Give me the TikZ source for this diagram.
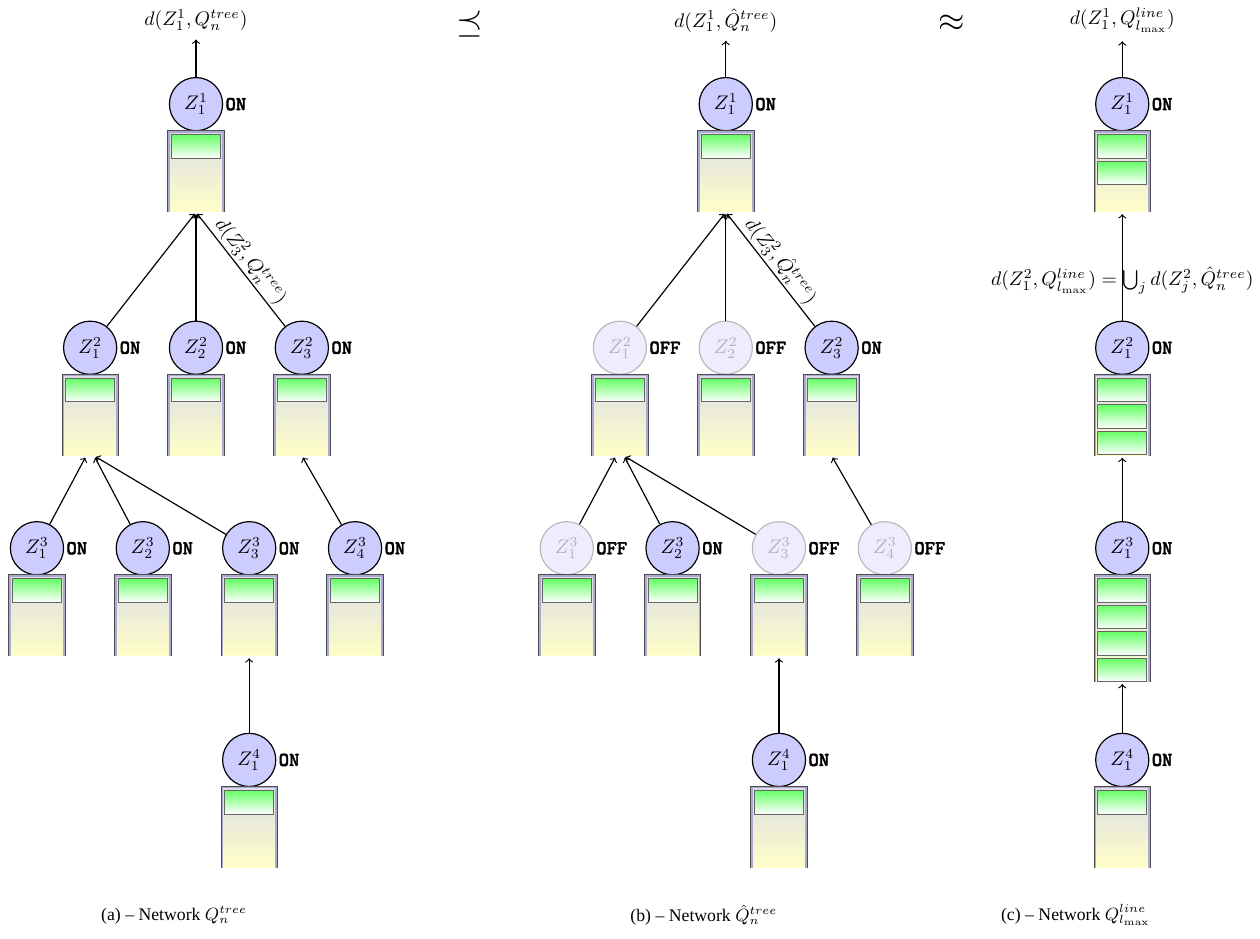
\documentclass[tikz,border=0pt]{standalone}
\usepackage{amsmath,amssymb}
\usepackage{fontspec}
\newfontfamily\capfont[Ligatures=TeX]{Liberation Serif}
\newfontfamily\onfont[FakeBold=2]{lmmonolt10-bold.otf}
\usepackage{tikz}

\definecolor{qtop}{RGB}{220,220,230}
\definecolor{qbot}{RGB}{255,255,200}
\definecolor{qrim}{RGB}{170,170,210}

\tikzset{
  zon/.style={circle, draw, semithick, fill=blue!20, minimum size=0.95cm, inner sep=0pt, label={[onoff]right:ON}},
  zoff/.style={circle, draw=gray!55, semithick, fill=blue!7, text=gray!60, minimum size=0.95cm, inner sep=0pt, label={[onoff]right:OFF}},
  onoff/.style={font=\onfont, inner sep=1pt},
  qbox/.style={rectangle, minimum width=0.96cm, inner sep=0pt, top color=qtop, bottom color=qbot},
  qrimline/.style={draw=qrim, line width=1.3pt},
  qedge/.style={draw=black!70, line width=0.4pt},
  qslot/.style={rectangle, draw=black!60, minimum width=0.875cm, minimum height=0.42cm, inner sep=0pt, top color=green!60, bottom color=white},
  arr/.style={->, semithick, shorten >=1pt},
}

% buffer under a station: #1 node, #2 packets, #3 height
\newcommand{\queue}[3]{%
  \node[qbox, minimum height=#3, anchor=north] (#1q) at (#1.south) {};
  \draw[qrimline] (#1q.south west) -- (#1q.north west) -- (#1q.north east) -- (#1q.south east);
  \draw[qedge] ([xshift=-0.5pt]#1q.south west) -- ([shift={(-0.5pt,0.5pt)}]#1q.north west)
    -- ([shift={(0.5pt,0.5pt)}]#1q.north east) -- ([xshift=0.5pt]#1q.south east);
  \foreach \k in {1,...,#2}
    \node[qslot, anchor=north, yshift={-0.054cm-(\k-1)*0.473cm}] (#1s\k) at (#1q.north) {};
}

\begin{document}
\begin{tikzpicture}
\useasboundingbox (0,0) rectangle (22.5,-16.75);

% (a) tree network
\node (a0) at (3.50,-0.36) {$d(Z_1^1,Q_n^{tree})$};
\node[zon] (a11) at (3.50,-1.86) {$Z_1^1$};
\foreach \i/\x in {1/1.61,2/3.50,3/5.39}
  \node[zon] (a2\i) at (\x,-6.21) {$Z_{\i}^2$};
\foreach \i/\x in {1/0.66,2/2.55,3/4.45,4/6.34}
  \node[zon] (a3\i) at (\x,-9.79) {$Z_{\i}^3$};
\node[zon] (a41) at (4.45,-13.57) {$Z_1^4$};
\foreach \n in {a11,a21,a22,a23,a31,a32,a33,a34,a41}
  {\queue{\n}{1}{1.43cm}}

\draw[arr] (a11) -- (a0);
\draw[arr] (a21) -- (a11q.south);
\draw[arr] (a22) -- (a11q.south);
\draw[arr] (a23) -- node[midway, above, sloped, inner sep=1pt] {$d(Z_3^2,Q_n^{tree})$} (a11q.south);
\draw[arr] (a31) -- ([xshift=-2pt]a21q.south);
\draw[arr] (a32) -- ([xshift=2pt]a21q.south);
\draw[arr] (a33) -- ([xshift=2pt]a21q.south);
\draw[arr] (a34) -- (a23q.south);
\draw[arr] (a41) -- (a33q.south);

% (b) tree network, some stations off
\node (b0) at (12.96,-0.36) {$d(Z_1^1,\hat{Q}_n^{tree})$};
\node[zon] (b11) at (12.96,-1.86) {$Z_1^1$};
\foreach \i/\x/\s in {1/11.07/zoff,2/12.96/zoff,3/14.85/zon}
  \node[\s] (b2\i) at (\x,-6.21) {$Z_{\i}^2$};
\foreach \i/\x/\s in {1/10.12/zoff,2/12.01/zon,3/13.91/zoff,4/15.80/zoff}
  \node[\s] (b3\i) at (\x,-9.79) {$Z_{\i}^3$};
\node[zon] (b41) at (13.91,-13.57) {$Z_1^4$};
\foreach \n in {b11,b21,b22,b23,b31,b32,b33,b34,b41}
  {\queue{\n}{1}{1.43cm}}

\draw[arr] (b11) -- (b0);
\draw[arr] (b21) -- (b11q.south);
\draw[arr] (b22) -- (b11q.south);
\draw[arr] (b23) -- node[midway, above, sloped, inner sep=1pt] {$d(Z_3^2,\hat{Q}_n^{tree})$} (b11q.south);
\draw[arr] (b31) -- ([xshift=-2pt]b21q.south);
\draw[arr] (b32) -- ([xshift=2pt]b21q.south);
\draw[arr] (b33) -- ([xshift=2pt]b21q.south);
\draw[arr] (b34) -- (b23q.south);
\draw[arr] (b41) -- (b33q.south);

% (c) line network
\node (c0) at (20.04,-0.36) {$d(Z_1^1,Q_{l_{\max}}^{line})$};
\node[zon] (c11) at (20.04,-1.86) {$Z_1^1$};
\node[zon] (c21) at (20.04,-6.21) {$Z_1^2$};
\node[zon] (c31) at (20.04,-9.79) {$Z_1^3$};
\node[zon] (c41) at (20.04,-13.57) {$Z_1^4$};
\queue{c11}{2}{1.43cm}
\queue{c21}{3}{1.43cm}
\queue{c31}{4}{1.89cm}
\queue{c41}{1}{1.43cm}

\draw[arr] (c11) -- (c0);
\draw[arr] (c21) -- node[pos=0.37] {$d(Z_1^2,Q_{l_{\max}}^{line})=\bigcup_j d(Z_j^2,\hat{Q}_n^{tree})$} (c11q.south);
\draw[arr] (c31) -- (c21q.south);
\draw[arr] (c41) -- (c31q.south);

% relations between the networks
\node (rel1) at (8.39,-0.42) {\LARGE$\preceq$};
\node (rel2) at (17.00,-0.42) {\LARGE$\approx$};

% captions
\node[font=\capfont\small] (capa) at (3.11,-16.34) {(a) -- Network $Q_n^{tree}$};
\node[font=\capfont\small] (capb) at (12.57,-16.34) {(b) -- Network $\hat{Q}_n^{tree}$};
\node[font=\capfont\small] (capc) at (19.21,-16.34) {(c) -- Network $Q_{l_{\max}}^{line}$};
\end{tikzpicture}
\end{document}
